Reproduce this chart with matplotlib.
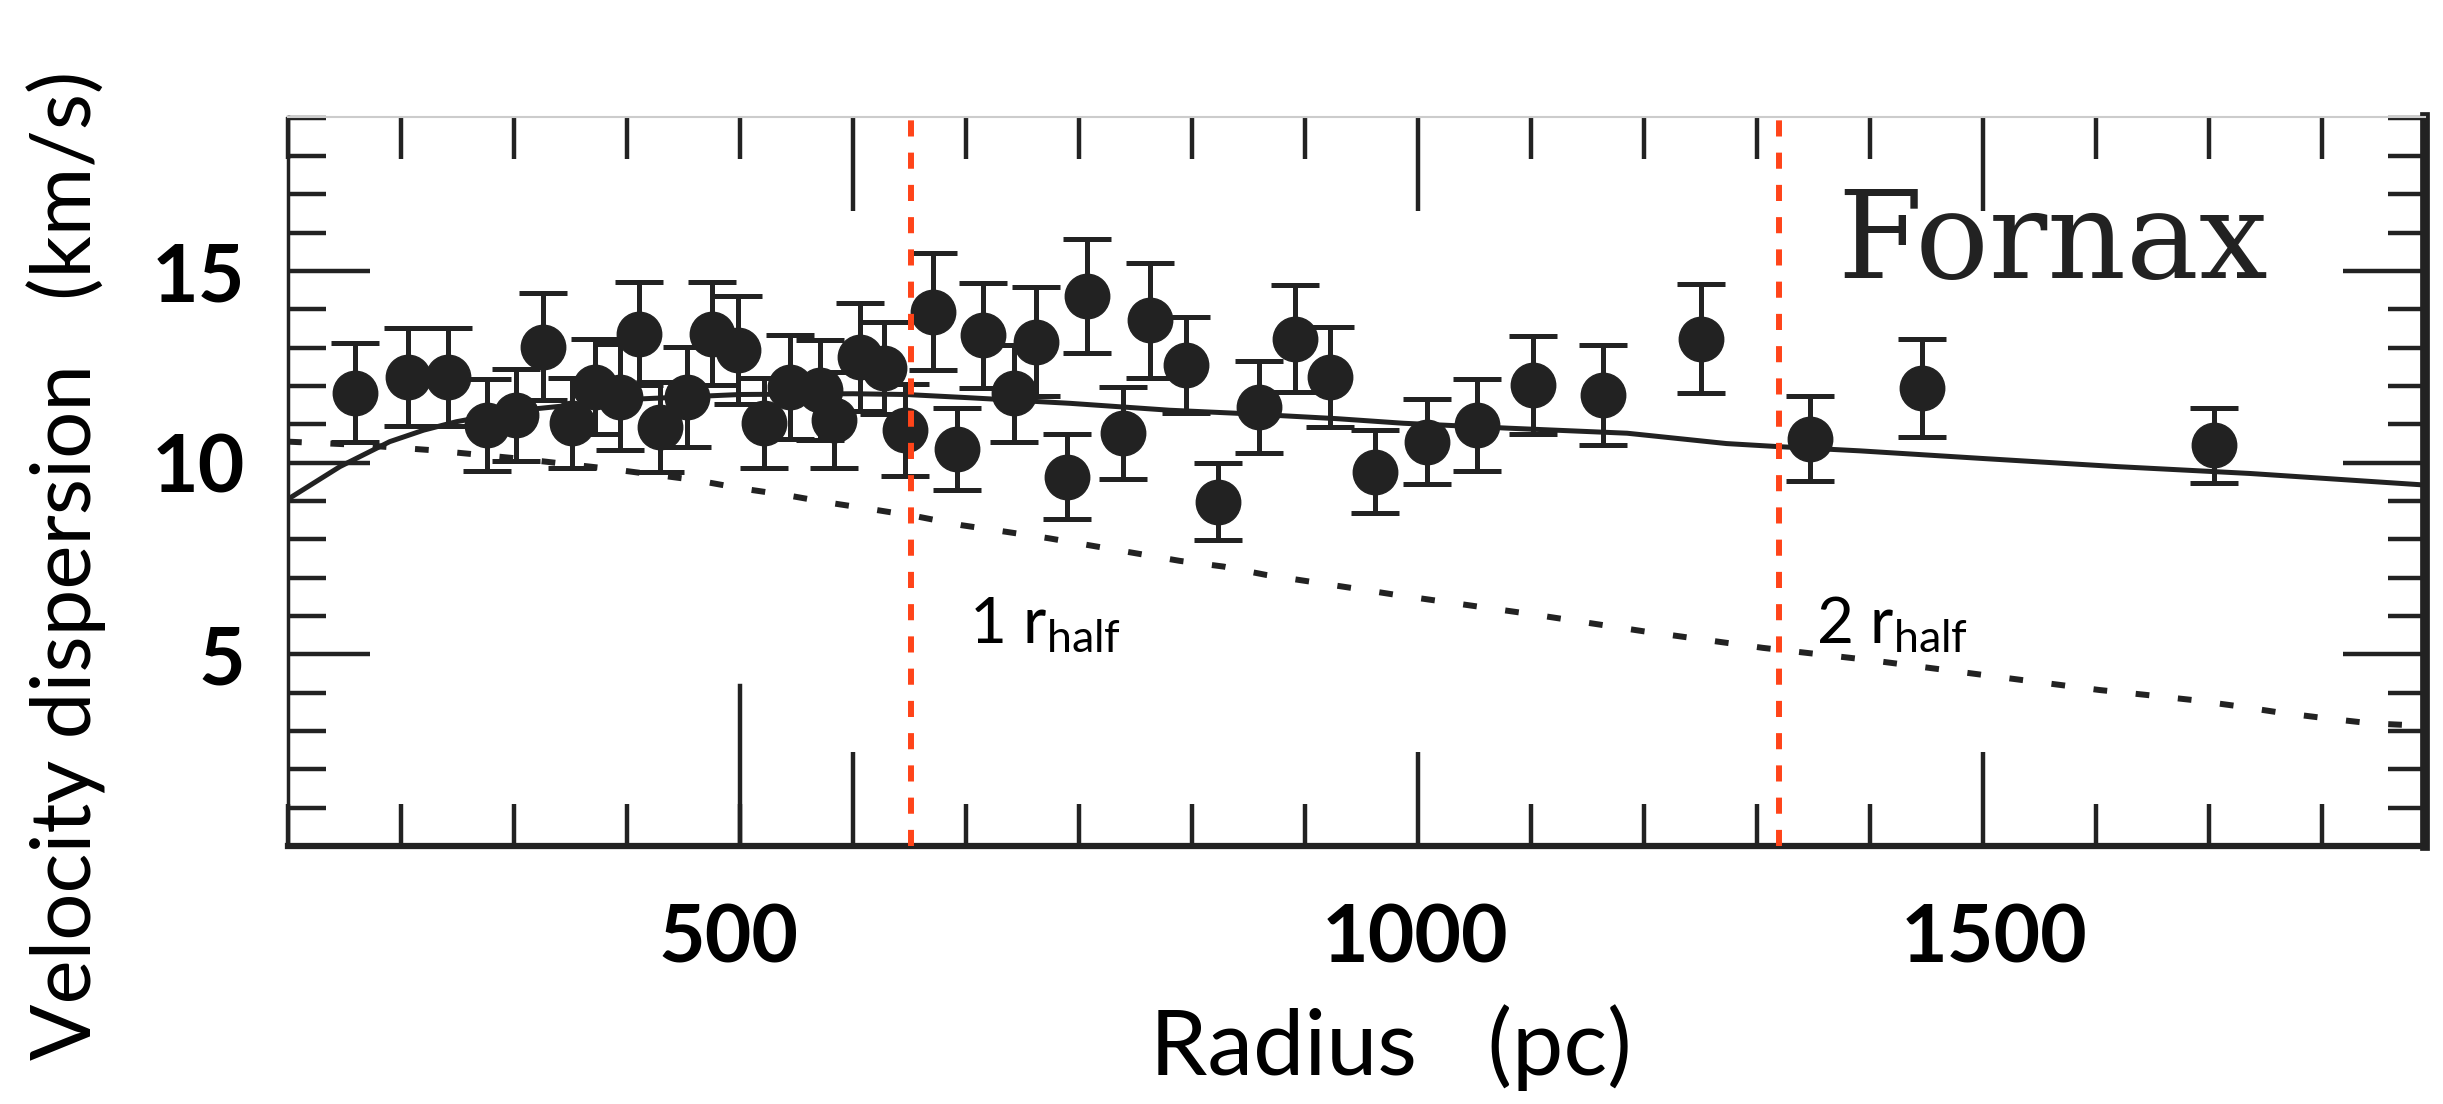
import matplotlib
matplotlib.use("Agg")
import matplotlib.pyplot as plt
import matplotlib.transforms as mtransforms
from matplotlib.ticker import MultipleLocator, FixedLocator

plt.rcParams['font.family'] = ['Lato', 'DejaVu Sans']
plt.rcParams['mathtext.default'] = 'regular'

# Fornax velocity dispersion profile
radius = [59, 106, 142, 176, 202, 226, 251, 272, 294, 311, 329, 353,
          375, 398, 421, 444, 471, 483, 506, 527, 546, 571, 592, 615,
          642, 662, 689, 707, 739, 763, 795, 823, 859, 891, 922, 962,
          1008, 1052, 1102, 1164, 1250, 1347, 1446, 1704]
sigma = [11.83, 12.24, 12.24, 10.98, 11.24, 13.03, 11.03, 11.98, 11.72, 13.37, 10.94, 11.72,
         13.37, 12.94, 11.03, 11.98, 11.90, 11.11, 12.76, 12.46, 10.85, 13.94, 10.37, 13.33,
         11.81, 13.16, 9.64, 14.35, 10.77, 13.72, 12.55, 8.98, 11.46, 13.24, 12.24, 9.77,
         10.55, 10.98, 12.03, 11.77, 13.24, 10.63, 11.94, 10.46]
sigma_err = [1.30, 1.28, 1.28, 1.20, 1.20, 1.40, 1.18, 1.24, 1.39, 1.35, 1.17, 1.30,
             1.35, 1.40, 1.18, 1.35, 1.30, 1.26, 1.40, 1.20, 1.20, 1.52, 1.07, 1.37,
             1.26, 1.43, 1.10, 1.50, 1.20, 1.50, 1.26, 1.00, 1.20, 1.40, 1.30, 1.08,
             1.10, 1.20, 1.28, 1.30, 1.42, 1.10, 1.28, 0.98]

# model curves
model_r = [0, 46, 90, 120, 149, 200, 300, 400, 500, 547, 600, 692, 780, 840, 928, 987,
           1081, 1185, 1273, 1319, 1391, 1500, 1618, 1736, 1890]
model_sigma = [9.05, 9.9, 10.55, 10.85, 11.07, 11.35, 11.65, 11.78, 11.8, 11.78, 11.7, 11.55,
               11.37, 11.29, 11.15, 11.03, 10.9, 10.77, 10.5, 10.42, 10.31, 10.11, 9.9, 9.72, 9.42]
dot_r = [0, 60, 126, 200, 282, 360, 401, 440, 478, 518, 558, 596, 635, 673, 789, 828, 866,
         904, 944, 981, 1100, 1200, 1305, 1400, 1532, 1603, 1645, 1685, 1725, 1763, 1804, 1843, 1880]
dot_sigma = [10.55, 10.47, 10.33, 10.12, 9.85, 9.55, 9.33, 9.16, 8.96, 8.78, 8.59, 8.37, 8.2,
             8.03, 7.44, 7.29, 7.07, 6.9, 6.72, 6.55, 6.05, 5.6, 5.17, 4.85, 4.34, 4.07, 3.94,
             3.81, 3.65, 3.48, 3.33, 3.2, 3.15]

# half-light radius markers
r_half_pos = [551, 1319]
r_half_text = ['1 r$_{half}$', '2 r$_{half}$']
r_half_text_x = [603, 1352]

yticks = [5, 10, 15]
xtick_labels = ['500', '1000', '1500']
xtick_label_pos = [390, 997, 1510]

ink = '#222222'

fig = plt.figure(figsize=(24.43, 11.04), dpi=100)
ax = fig.add_axes([0.1179, 0.2337, 0.8747, 0.6603])

ax.plot(model_r, model_sigma, color=ink, lw=3.6, zorder=2)
ax.plot(dot_r, dot_sigma, color=ink, lw=4.3, dashes=(2.3, 4.8), zorder=2)
ax.errorbar(radius, sigma, yerr=sigma_err, fmt='o', color=ink, ms=32,
            elinewidth=3.6, capsize=17, capthick=3.6, zorder=3)

for r in r_half_pos:
    ax.axvline(r, color='#ff4419', lw=4.3, dashes=(2.7, 2.7), zorder=5)
for txt, tx in zip(r_half_text, r_half_text_x):
    ax.text(tx, 5.3, txt, fontsize=46, color='black', va='baseline', ha='left')

ax.text(0.725, 0.779, 'Fornax', transform=ax.transAxes, fontsize=88,
        family='DejaVu Serif', color=ink, va='baseline', ha='left')

ax.set_xlim(0, 1891)
ax.set_ylim(0, 19.02)

ax.xaxis.set_major_locator(FixedLocator([500, 1000, 1500]))
ax.xaxis.set_minor_locator(MultipleLocator(100))
ax.set_yticks(yticks, [str(v) for v in yticks], fontweight='bold', fontsize=58)
ax.yaxis.set_minor_locator(MultipleLocator(1))

ax.tick_params(axis='both', which='both', direction='in', top=True, right=True,
               color=ink, width=3.2)
ax.tick_params(axis='x', which='major', length=68, labelbottom=False)
ax.tick_params(axis='x', which='minor', length=30)
ax.tick_params(axis='y', which='major', length=59, pad=31, labelcolor='black')
ax.tick_params(axis='y', which='minor', length=27)

# extra long tick left on the bottom axis
ax.axvline(400, 0, 0.22, color=ink, lw=3.2)

trans = mtransforms.blended_transform_factory(ax.transData, ax.transAxes)
for lab, pos in zip(xtick_labels, xtick_label_pos):
    ax.text(pos, -0.160, lab, transform=trans, fontsize=58, fontweight='bold',
            ha='center', va='baseline')

ax.spines['left'].set_linewidth(2.5)
ax.spines['left'].set_color(ink)
ax.spines['bottom'].set_linewidth(4.5)
ax.spines['bottom'].set_color(ink)
ax.spines['right'].set_linewidth(7)
ax.spines['right'].set_color(ink)
ax.spines['top'].set_linewidth(1.5)
ax.spines['top'].set_color('#cccccc')

fig.text(0.4707, 0.026, 'Radius   (pc)', fontsize=66, ha='left', va='baseline')
fig.text(0.027, 0.040, 'Velocity dispersion   (km/s)', fontsize=60,
         rotation=90, ha='center', va='bottom')

fig.savefig('out.png', dpi=100)
